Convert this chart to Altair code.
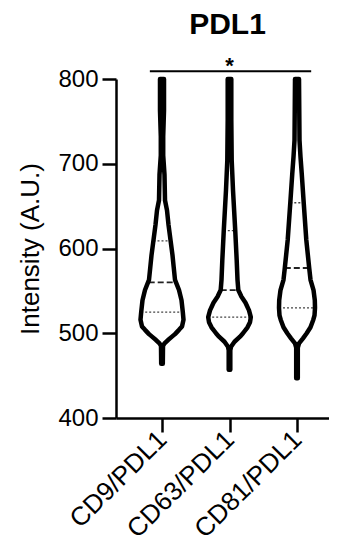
import altair as alt
import pandas as pd

# Categories and their positions on the x axis
groups = ["CD9/PDL1", "CD63/PDL1", "CD81/PDL1"]
positions = [1, 2, 3]

# Violin outlines: intensity values and half-widths (density)
v1_values = [800, 763, 732, 710, 687, 657, 645, 628, 610, 592, 578, 563, 551, 539, 525, 516, 508, 504, 499, 496, 492, 488, 485, 464]
v1_width = [2, 2, 1.2, 1.2, 2.5, 3, 5, 6.5, 8.5, 10.5, 11.7, 13, 17, 19.5, 20.8, 21.5, 20, 17, 13, 10, 6, 2.5, 1, 0.8]

v2_values = [800, 752, 704, 669, 622, 586, 563, 551, 543, 536, 527, 519, 513, 507, 500, 496, 490, 484, 480, 457]
v2_width = [1.8, 1.8, 2.2, 3.5, 5.7, 7.2, 8, 8.8, 12, 16, 19.5, 21.3, 20.5, 18, 13.5, 10.5, 5, 1.5, 0.8, 0.8]

v3_values = [800, 728, 708, 689, 654, 610, 577, 563, 551, 539, 530, 521, 516, 507, 500, 494, 488, 483, 447]
v3_width = [2, 2.5, 3.5, 4.7, 6.7, 9.3, 12.2, 13.5, 16.5, 17.8, 18, 17.5, 16.3, 13.5, 9.7, 6, 2, 0.8, 0.8]

# Quartiles (value, half-width of the line inside the violin)
q1_values = [525, 519, 530]
median_values = [560, 551, 577]
q3_values = [609, 621, 654]
q1_width = [20.8, 21.3, 18]
median_width = [13.3, 8.8, 12.2]
q3_width = [8.5, 5.7, 6.7]

# Significance bracket and chart title
sig_from = [0.82]
sig_to = [3.21]
sig_value = [809]
sig_label = ["*"]
star_value = [807]
star_pos = [2.0]
title_text = ["PDL1"]
title_pos = [1.97]
title_value = [853]

WIDTH_SCALE = 1 / 67.5
FONT = "Liberation Sans"

rows = []
for g, p, vals, ws in zip(groups, positions,
                          [v1_values, v2_values, v3_values],
                          [v1_width, v2_width, v3_width]):
    for v, w in zip(vals, ws):
        rows.append({"group": g, "value": v,
                     "left": p - w * WIDTH_SCALE, "right": p + w * WIDTH_SCALE})
violin = pd.DataFrame(rows)

qrows = []
for g, p, q1, m, q3, w1, wm, w3 in zip(groups, positions, q1_values, median_values, q3_values,
                                        q1_width, median_width, q3_width):
    qrows.append({"group": g, "kind": "quartile", "value": q1, "left": p - w1 * WIDTH_SCALE, "right": p + w1 * WIDTH_SCALE})
    qrows.append({"group": g, "kind": "median", "value": m, "left": p - wm * WIDTH_SCALE, "right": p + wm * WIDTH_SCALE})
    qrows.append({"group": g, "kind": "quartile", "value": q3, "left": p - w3 * WIDTH_SCALE, "right": p + w3 * WIDTH_SCALE})
quart = pd.DataFrame(qrows)

sig = pd.DataFrame({"left": sig_from, "right": sig_to, "value": sig_value})
star = pd.DataFrame({"left": star_pos, "value": star_value, "t": sig_label})
ttl = pd.DataFrame({"left": title_pos, "value": title_value, "t": title_text})

xscale = alt.Scale(domain=[0.3185, 3.474], nice=False, zero=False)
yscale = alt.Scale(domain=[400, 800], nice=False, zero=False)

label_expr = " : ".join(
    f"datum.value == {p} ? '{g}'" for p, g in zip(positions, groups)
) + " : ''"

x_axis = alt.Axis(values=positions, labelExpr=label_expr, labelAngle=-45,
                  labelAlign="right", labelBaseline="middle", labelOverlap=False,
                  labelFontSize=26, labelPadding=3, tickSize=14, tickWidth=2.5,
                  domainWidth=2.5, grid=False, title=None, labelColor="black",
                  tickColor="black", domainColor="black")
y_axis = alt.Axis(values=[400, 500, 600, 700, 800], labelFontSize=24, labelPadding=4,
                  tickSize=14, tickWidth=2.5, domainWidth=2.5, grid=False,
                  title="Intensity (A.U.)", titleFontSize=26, titleFontWeight="normal",
                  titlePadding=14, labelColor="black", titleColor="black",
                  tickColor="black", domainColor="black")

X = alt.X("left:Q", scale=xscale, axis=x_axis)
Y = alt.Y("value:Q", scale=yscale, axis=y_axis)

fill = alt.Chart(violin).mark_area(orient="horizontal", color="white", fillOpacity=1).encode(
    y=Y, x=X, x2="right:Q", detail="group:N",
)
med = alt.Chart(quart[quart.kind == "median"]).mark_rule(
    color="#222", strokeWidth=1.8, strokeDash=[6, 3]).encode(
    y=Y, x=X, x2="right:Q",
)
qs = alt.Chart(quart[quart.kind == "quartile"]).mark_rule(
    color="#444", strokeWidth=1.3, strokeDash=[2, 2]).encode(
    y=Y, x=X, x2="right:Q",
)
outline = alt.Chart(violin).mark_area(orient="horizontal", color="black", fillOpacity=0,
                                      stroke="black", strokeWidth=4.5, strokeJoin="round").encode(
    y=Y, x=X, x2="right:Q", detail="group:N",
)
sig_rule = alt.Chart(sig).mark_rule(color="black", strokeWidth=2).encode(
    x=X, x2="right:Q", y=Y,
)
star_text = alt.Chart(star).mark_text(fontSize=22, fontWeight="bold", font=FONT,
                                      baseline="alphabetic", color="black").encode(
    x=X, y=Y, text="t:N",
)
title_mark = alt.Chart(ttl).mark_text(fontSize=30, fontWeight="bold", font=FONT,
                                      baseline="alphabetic", color="black").encode(
    x=X, y=Y, text="t:N",
)

chart = alt.layer(fill, qs, med, outline, sig_rule, star_text, title_mark).properties(
    width=213, height=339,
    autosize=alt.AutoSizeParams(type="none"),
    padding={"left": 108, "top": 71, "right": 0, "bottom": 124},
).configure_view(stroke=None).configure_axis(labelFont=FONT, titleFont=FONT)

chart.save("out.html", embed_options={"renderer": "svg", "actions": False})
